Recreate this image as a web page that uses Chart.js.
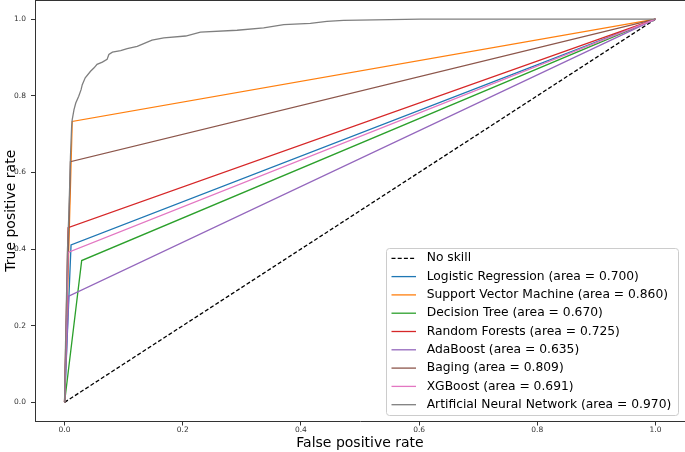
<!DOCTYPE html>
<html><head><meta charset="utf-8">
<script src="https://cdn.jsdelivr.net/npm/chart.js@4.4.1/dist/chart.umd.min.js"></script>
<style>html,body{margin:0;padding:0;background:#fff;} #wrap{width:685px;height:452px;}</style>
</head><body><div id="wrap"><canvas id="c" width="685" height="452"></canvas></div>
<script>
const tickValues = [0, 0.2, 0.4, 0.6, 0.8, 1.0];
const seriesNames = [
  'No skill',
  'Logistic Regression (area = 0.700)',
  'Support Vector Machine (area = 0.860)',
  'Decision Tree (area = 0.670)',
  'Random Forests (area = 0.725)',
  'AdaBoost (area = 0.635)',
  'Baging (area = 0.809)',
  'XGBoost (area = 0.691)',
  'Artificial Neural Network (area = 0.970)'
];
const fprNoSkill = [0, 1];      const tprNoSkill = [0, 1];
const fprLR  = [0, 0.011, 1];   const tprLR  = [0, 0.411, 1];
const fprSVM = [0, 0.013, 1];   const tprSVM = [0, 0.733, 1];
const fprDT  = [0, 0.029, 1];   const tprDT  = [0, 0.370, 1];
const fprRF  = [0, 0.006, 1];   const tprRF  = [0, 0.456, 1];
const fprAda = [0, 0.007, 1];   const tprAda = [0, 0.277, 1];
const fprBag = [0, 0.010, 1];   const tprBag = [0, 0.628, 1];
const fprXGB = [0, 0.006, 1];   const tprXGB = [0, 0.391, 1];
const fprANN = [0, 0.001, 0.003, 0.005, 0.007, 0.009, 0.010, 0.012, 0.013, 0.016, 0.019, 0.024, 0.028, 0.030, 0.035, 0.044, 0.050, 0.055, 0.064, 0.072, 0.075, 0.081, 0.095, 0.106, 0.123, 0.134, 0.148, 0.168, 0.205, 0.230, 0.292, 0.337, 0.371, 0.416, 0.444, 0.472, 0.551, 0.602, 1.0];
const tprANN = [0, 0.100, 0.250, 0.400, 0.480, 0.580, 0.640, 0.720, 0.738, 0.764, 0.781, 0.799, 0.816, 0.829, 0.847, 0.864, 0.873, 0.882, 0.888, 0.895, 0.908, 0.914, 0.918, 0.923, 0.929, 0.936, 0.945, 0.951, 0.956, 0.966, 0.971, 0.977, 0.986, 0.989, 0.994, 0.997, 0.999, 1.000, 1.0];
const seriesColors = ['#000000','#1f77b4','#ff7f0e','#2ca02c','#d62728','#9467bd','#8c564b','#e377c2','#7f7f7f'];

const fprs = [fprNoSkill, fprLR, fprSVM, fprDT, fprRF, fprAda, fprBag, fprXGB, fprANN];
const tprs = [tprNoSkill, tprLR, tprSVM, tprDT, tprRF, tprAda, tprBag, tprXGB, tprANN];

const FONT = "'DejaVu Sans', sans-serif";

const datasets = seriesNames.map((name, i) => ({
  label: name,
  data: fprs[i].map((x, k) => ({x: x, y: tprs[i][k]})),
  borderColor: seriesColors[i],
  backgroundColor: seriesColors[i],
  borderWidth: 1.3,
  borderDash: i === 0 ? [4, 2.2] : [],
  showLine: true,
  pointRadius: 0,
  fill: false,
  order: -i
}));

const extras = {
  id: 'extras',
  afterDraw(chart) {
    const ctx = chart.ctx, ca = chart.chartArea;
    ctx.save();
    ctx.strokeStyle = '#333';
    ctx.lineWidth = 1;
    ctx.beginPath();
    ctx.moveTo(ca.left, ca.top + 0.5);
    ctx.lineTo(ca.right, ca.top + 0.5);
    ctx.stroke();
    const bx = 386, by = 248, bw = 292, bh = 167, r = 3;
    ctx.fillStyle = 'rgba(255,255,255,0.85)';
    ctx.strokeStyle = '#cccccc';
    ctx.lineWidth = 1;
    ctx.beginPath();
    ctx.roundRect(bx + 0.5, by + 0.5, bw, bh, r);
    ctx.fill();
    ctx.stroke();
    ctx.font = '12.3px ' + FONT;
    ctx.textBaseline = 'middle';
    ctx.textAlign = 'left';
    seriesNames.forEach((name, i) => {
      const y = 258.3 + i * 18.3;
      ctx.strokeStyle = seriesColors[i];
      ctx.lineWidth = 1.3;
      ctx.setLineDash(i === 0 ? [4, 2.2] : []);
      ctx.beginPath();
      ctx.moveTo(391.5, y);
      ctx.lineTo(416, y);
      ctx.stroke();
      ctx.setLineDash([]);
      ctx.fillStyle = '#000';
      ctx.fillText(name, 426.7, y);
    });
    ctx.restore();
  }
};

const axisCommon = (titleText, isX) => ({
  type: 'linear',
  min: -0.05,
  max: 1.05,
  afterBuildTicks: s => { s.ticks = tickValues.map(v => ({value: v})); },
  afterFit: s => {
    if (isX) s.height = 30.5; else s.width = 35;
    s.paddingTop = 0; s.paddingBottom = 0; s.paddingLeft = 0; s.paddingRight = 0;
  },
  grid: {drawOnChartArea: false, drawTicks: true, tickLength: 4, color: '#333'},
  border: {display: true, color: '#333', width: 1},
  ticks: {font: {family: FONT, size: 7.5}, color: '#333', padding: isX ? 0 : 5,
          callback: v => Number(v).toFixed(1), maxRotation: 0, autoSkip: false},
  title: {display: true, text: titleText, font: {family: FONT, size: 14}, color: '#000',
          padding: isX ? {top: 0, bottom: 0} : {top: 2.6, bottom: 0}}
});

new Chart(document.getElementById('c'), {
  type: 'scatter',
  data: {datasets},
  options: {
    responsive: false,
    animation: false,
    devicePixelRatio: 1,
    layout: {padding: 0},
    plugins: {legend: {display: false}, tooltip: {enabled: false}},
    elements: {line: {tension: 0}},
    scales: {
      x: axisCommon('False positive rate', true),
      y: axisCommon('True positive rate', false)
    }
  },
  plugins: [extras]
});
</script>
</body></html>
